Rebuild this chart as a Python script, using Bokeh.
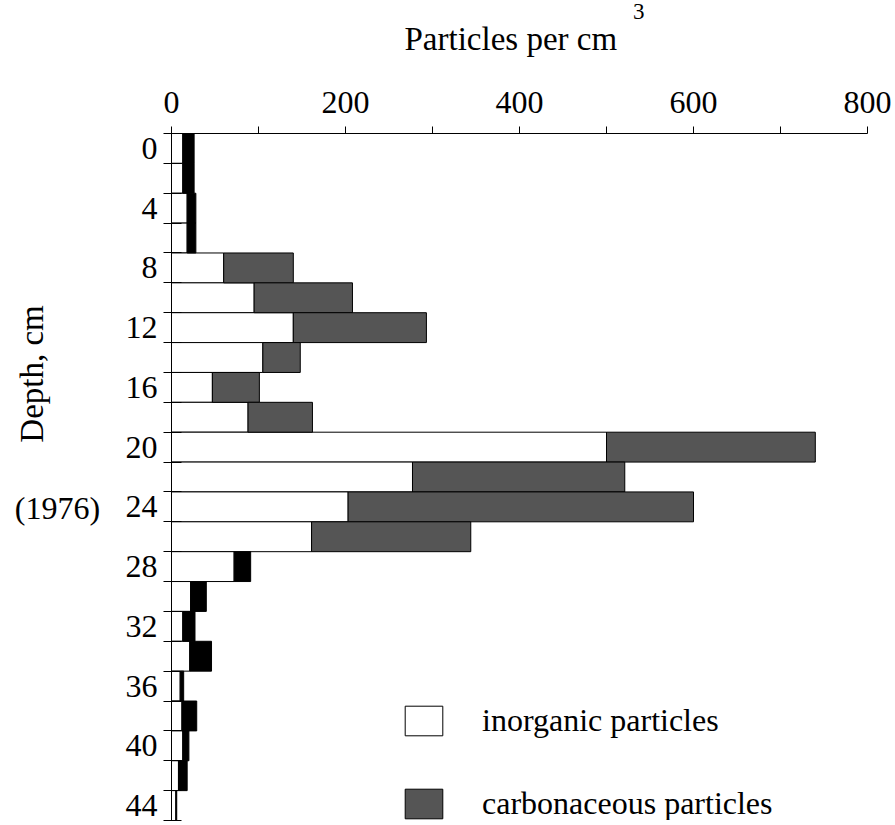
from bokeh.plotting import figure
from bokeh.models import (Range1d, FixedTicker, Label, Legend, LegendItem,
                          ColumnDataSource)
from bokeh.embed import file_html
from bokeh.resources import INLINE
import math

# ---- data ----
depth_top = [0, 2, 4, 6, 8, 10, 12, 14, 16, 18, 20, 22, 24, 26, 28, 30, 32, 34,
             36, 38, 40, 42, 44]
inorganic = [13, 13, 18, 18, 60, 95, 140, 105, 47, 88, 500, 277, 203, 161, 72,
             22, 13, 21, 10, 12, 13, 8, 5]
carbonaceous = [13, 13, 10, 10, 80, 113, 153, 43, 54, 74, 240, 244, 397, 183,
                19, 18, 14, 25, 4, 17, 7, 10, 1]
x_ticks = [0, 200, 400, 600, 800]
x_minor = [100, 300, 500, 700]
depth_labels = [0, 4, 8, 12, 16, 20, 24, 28, 32, 36, 40, 44]
year_depth = 24
year_text = "(1976)"

FONT = "Liberation Serif"

centers = [d + 1 for d in depth_top]
totals = [a + b for a, b in zip(inorganic, carbonaceous)]
carb_colors = ["#000000" if c < 30 else "#555555" for c in carbonaceous]
src = ColumnDataSource(dict(y=centers, inorg=inorganic, total=totals,
                            color=carb_colors))

p = figure(width=893, height=823, x_range=Range1d(0, 800),
           y_range=Range1d(46, 0), output_backend="svg",
           toolbar_location=None, x_axis_location="above",
           title_location=None,
           min_border_left=171, min_border_top=133, min_border_right=26,
           min_border_bottom=3)
p.grid.visible = False
p.outline_line_color = None
p.background_fill_color = "white"
p.border_fill_color = "white"

r1 = p.hbar(y="y", height=2, left=0, right="inorg", source=src,
            fill_color="white", line_color="black", line_width=1)
r2 = p.hbar(y="y", height=2, left="inorg", right="total", source=src,
            fill_color="color", line_color="black", line_width=1)

# x axis (top)
xa = p.xaxis[0]
xa.ticker = FixedTicker(ticks=x_ticks, minor_ticks=x_minor)
xa.major_tick_out = 7
xa.major_tick_in = 0
xa.minor_tick_out = 7
xa.minor_tick_in = 0
xa.major_label_text_font = FONT
xa.major_label_text_font_size = "32px"
xa.major_label_text_color = "black"
xa.major_label_standoff = 14
xa.axis_line_color = "black"
xa.major_tick_line_color = "black"
xa.minor_tick_line_color = "black"

# y axis (left)
ya = p.yaxis[0]
ya.ticker = FixedTicker(ticks=[d + 1 for d in depth_labels],
                        minor_ticks=list(range(0, 47, 2)))
ya.major_label_overrides = {d + 1: str(d) for d in depth_labels}
ya.major_tick_in = 0
ya.major_tick_out = 0
ya.minor_tick_in = 10
ya.minor_tick_out = 8
ya.major_label_text_font = FONT
ya.major_label_text_font_size = "32px"
ya.major_label_text_color = "black"
ya.major_label_standoff = 6
ya.axis_line_color = "black"
ya.minor_tick_line_color = "black"

# texts placed in side panels (data units -> frame scales)
p.add_layout(Label(x=390, y=-6.3, text="Particles per cm", text_font=FONT,
                   text_font_size="33px", text_align="center",
                   text_baseline="middle", text_color="black"), "above")
p.add_layout(Label(x=537, y=-8.15, text="3", text_font=FONT,
                   text_font_size="23px", text_align="center",
                   text_baseline="middle", text_color="black"), "above")
p.add_layout(Label(x=-160, y=16.1, text="Depth, cm", text_font=FONT,
                   text_font_size="33px", text_align="center",
                   text_baseline="middle", angle=math.pi / 2,
                   text_color="black"), "left")
p.add_layout(Label(x=-82, y=year_depth + 1.1, text=year_text, text_font=FONT,
                   text_font_size="32px", text_align="right",
                   text_baseline="middle", text_color="black"), "left")

legend = Legend(items=[
    LegendItem(label="inorganic particles", renderers=[r1]),
    LegendItem(label="carbonaceous particles", renderers=[r2], index=4)],
    location=(229, -2), glyph_width=47, glyph_height=37,
    label_text_font=FONT, label_text_font_size="32px", label_standoff=35,
    label_text_color="black",
    spacing=46, padding=0, margin=0, border_line_color=None,
    background_fill_alpha=0, label_height=37)
p.add_layout(legend)

open("out.html", "w").write(file_html(p, INLINE))
